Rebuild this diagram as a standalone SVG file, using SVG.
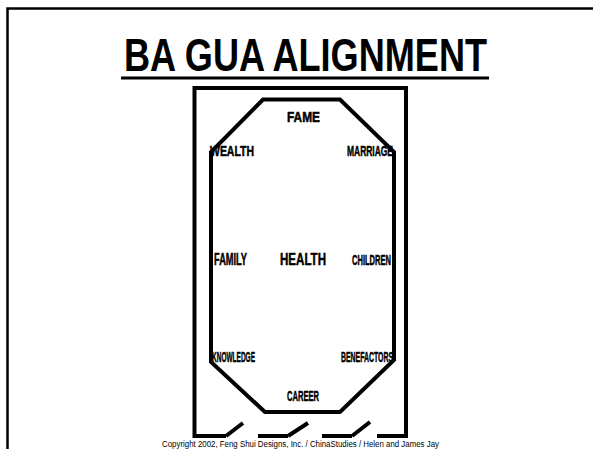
<svg xmlns="http://www.w3.org/2000/svg" width="593" height="449" viewBox="0 0 593 449">
<style>
.ln{fill:none;stroke:#000;stroke-linecap:butt;stroke-linejoin:miter}
.lb{font-family:"Liberation Sans",Arial,sans-serif;font-weight:bold;fill:#000;stroke:#000;stroke-width:0.5}
.tt{font-family:"Liberation Sans",Arial,sans-serif;font-weight:bold;fill:#000}
.cp{font-family:"Liberation Sans",Arial,sans-serif;fill:#000}
</style>
<rect width="593" height="449" fill="#fff"/>
<g id="frame">
<path class="ln" d="M7.5,449 V8.5 H593" stroke-width="2.5"/>
</g>
<g id="title">
<text class="tt" x="124" y="71" font-size="46" textLength="363" lengthAdjust="spacingAndGlyphs">BA GUA ALIGNMENT</text>
<rect x="121" y="76.5" width="368" height="3" fill="#000"/>
</g>
<g id="room">
<path class="ln" stroke-width="4" d="M226,436 H194.5 V88 H406 V436 H377"/>
<path class="ln" stroke-width="4" d="M258,436 H288 M322,436 H352"/>
<path class="ln" stroke-width="4" d="M226,436 L243,423 M288,436 L308,423 M352,436 L370,422"/>
</g>
<g id="bagua">
<path class="ln" stroke-width="4" d="M263,99.5 H340 L394,152 V360 L340,412 H265 L211,362 V152 Z"/>
</g>
<g id="fame"><text class="lb" x="287" y="122" font-size="14" textLength="33" lengthAdjust="spacingAndGlyphs">FAME</text></g>
<g id="wealth"><text class="lb" x="210" y="156" font-size="15" textLength="44" lengthAdjust="spacingAndGlyphs">WEALTH</text></g>
<g id="marriage"><text class="lb" x="347" y="156" font-size="15" textLength="46" lengthAdjust="spacingAndGlyphs">MARRIAGE</text></g>
<g id="family"><text class="lb" x="214" y="265" font-size="16" textLength="33" lengthAdjust="spacingAndGlyphs">FAMILY</text></g>
<g id="health"><text class="lb" x="280" y="265" font-size="17" textLength="46" lengthAdjust="spacingAndGlyphs">HEALTH</text></g>
<g id="children"><text class="lb" x="352" y="265" font-size="15" textLength="39" lengthAdjust="spacingAndGlyphs">CHILDREN</text></g>
<g id="knowledge"><text class="lb" x="212" y="362" font-size="15" textLength="43" lengthAdjust="spacingAndGlyphs">KNOWLEDGE</text></g>
<g id="benefactors"><text class="lb" x="341" y="362" font-size="15" textLength="52" lengthAdjust="spacingAndGlyphs">BENEFACTORS</text></g>
<g id="career"><text class="lb" x="287" y="401" font-size="15" textLength="32" lengthAdjust="spacingAndGlyphs">CAREER</text></g>
<g id="copyright"><text class="cp" x="162" y="447" font-size="8.5" textLength="277" lengthAdjust="spacingAndGlyphs">Copyright 2002, Feng Shui Designs, Inc. / ChinaStudies / Helen and James Jay</text></g>
</svg>
